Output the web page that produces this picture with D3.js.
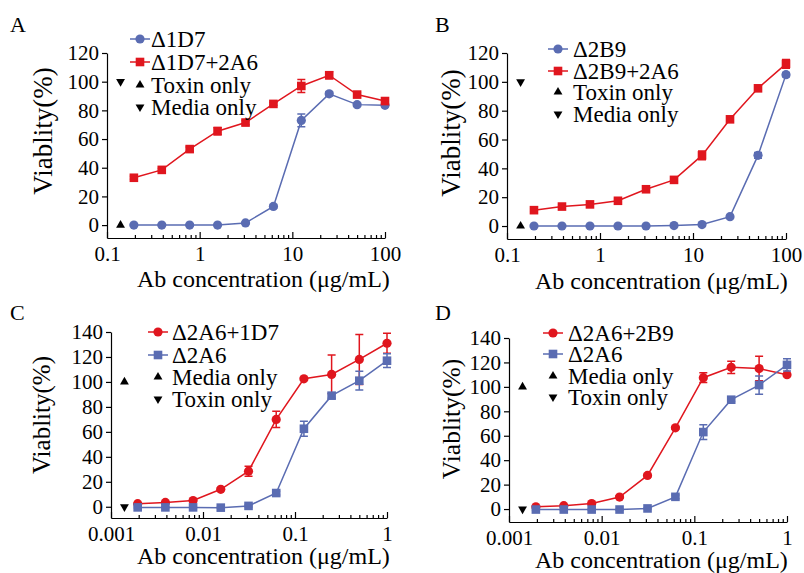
<!DOCTYPE html>
<html>
<head>
<meta charset="utf-8">
</head>
<body style="margin:0;background:#fff">
<script src="https://cdn.jsdelivr.net/npm/d3@7"></script>
<script>
// ---- data ----
var concAB = [0.195, 0.39, 0.78, 1.56, 3.125, 6.25, 12.5, 25, 50, 100];
var concCD = [0.00195, 0.0039, 0.0078, 0.0156, 0.03125, 0.0625, 0.125, 0.25, 0.5, 1];

var d1D7      = [0, 0, 0, 0, 1.5, 13, 73, 91.5, 84, 83.5];
var d1D7Err   = [0.3, 0.3, 0.3, 0.3, 0.5, 1, 4.5, 1.5, 1, 1];
var d1D7_2A6    = [33, 38.5, 53, 65.5, 71.5, 84.5, 97, 104.5, 91, 86.5];
var d1D7_2A6Err = [1, 1, 1.5, 2.5, 1.5, 1, 4.5, 2.5, 1.5, 1.5];

var d2B9      = [0, 0, 0, 0, 0, 0.3, 1, 6.5, 49, 105];
var d2B9Err   = [0.3, 0.3, 0.3, 0.3, 0.3, 0.3, 1, 1, 2, 1.5];
var d2B9_2A6    = [11, 13.5, 15, 17.5, 25.5, 32, 49, 74, 95.5, 112.5];
var d2B9_2A6Err = [1, 1, 1, 1, 1, 1.5, 3, 1.5, 1.5, 3];

var d2A6_1D7    = [2.5, 3.5, 5, 14, 28.5, 70, 102.5, 106, 118, 131];
var d2A6_1D7Err = [0.5, 0.5, 0.8, 1, 4, 6.5, 1, 15.5, 20, 8];
var d2A6C       = [-0.5, -0.5, -0.5, -0.7, 0.7, 11, 62.5, 89, 101, 117];
var d2A6CErr    = [0.5, 0.5, 0.5, 0.5, 0.8, 1.5, 6, 2, 7.5, 5.5];

var d2A6_2B9    = [1.8, 2.8, 4.5, 9.8, 27.5, 66.5, 107.5, 116, 115, 110];
var d2A6_2B9Err = [0.5, 0.5, 0.8, 1, 1, 1, 4, 5, 10, 1];
var d2A6D       = [-0.4, -0.4, -0.4, -0.4, 0.5, 10, 63, 89.5, 101.5, 118];
var d2A6DErr    = [0.5, 0.5, 0.5, 0.5, 0.5, 1.5, 6, 1.5, 7.5, 5];

var controlConcAB = 0.14, controlConcCD = 0.0014;

var xTicksAB = [0.1, 1, 10, 100];
var xTicksCD = [0.001, 0.01, 0.1, 1];
var yTicksAB = [0, 20, 40, 60, 80, 100, 120];
var yTicksCD = [0, 20, 40, 60, 80, 100, 120, 140];

var blue = "#5a6cb2", red = "#e0161e";
var serif = "'Liberation Serif', 'Times New Roman', serif";

var svg = d3.select("body").append("svg").attr("width", 804).attr("height", 573)
  .style("background", "#fff");

var panels = [
  { letter: "A", lx: 10, ly: 32, left: 107, right: 385, top: 53, bottom: 238,
    xDom: [0.1, 100], yDom: [-9, 120], xTicks: xTicksAB, yTicks: yTicksAB,
    ytX: 52, ytY: 131, ytSize: 27, xtX: 137, xtY: 287,
    legX: 140, legTx: 151, legY: [39, 62, 85, 107],
    series: [
      { name: "\u03941D7", x: concAB, y: d1D7, err: d1D7Err, color: blue, shape: "circle" },
      { name: "\u03941D7+2A6", x: concAB, y: d1D7_2A6, err: d1D7_2A6Err, color: red, shape: "square" }],
    controls: [
      { name: "Toxin only", up: true, x: controlConcAB, y: 0 },
      { name: "Media only", up: false, x: controlConcAB, y: 100 }] },
  { letter: "B", lx: 435, ly: 32, left: 507, right: 786, top: 53, bottom: 239,
    xDom: [0.1, 100], yDom: [-9, 120], xTicks: xTicksAB, yTicks: yTicksAB,
    ytX: 460, ytY: 133, ytSize: 27, xtX: 535, xtY: 289,
    legX: 558, legTx: 573, legY: [49, 71, 92, 114],
    series: [
      { name: "\u03942B9", x: concAB, y: d2B9, err: d2B9Err, color: blue, shape: "circle" },
      { name: "\u03942B9+2A6", x: concAB, y: d2B9_2A6, err: d2B9_2A6Err, color: red, shape: "square" }],
    controls: [
      { name: "Toxin only", up: true, x: controlConcAB, y: 0 },
      { name: "Media only", up: false, x: controlConcAB, y: 100 }] },
  { letter: "C", lx: 10, ly: 320, left: 111, right: 387, top: 332, bottom: 518,
    xDom: [0.001, 1], yDom: [-9, 140], xTicks: xTicksCD, yTicks: yTicksCD,
    ytX: 50, ytY: 415, ytSize: 25, xtX: 137, xtY: 564,
    legX: 158, legTx: 172, legY: [332, 355, 377, 399],
    series: [
      { name: "\u03942A6+1D7", x: concCD, y: d2A6_1D7, err: d2A6_1D7Err, color: red, shape: "circle" },
      { name: "\u03942A6", x: concCD, y: d2A6C, err: d2A6CErr, color: blue, shape: "square" }],
    controls: [
      { name: "Media only", up: true, x: controlConcCD, y: 100 },
      { name: "Toxin only", up: false, x: controlConcCD, y: 0 }] },
  { letter: "D", lx: 435, ly: 320, left: 509, right: 787, top: 338, bottom: 522,
    xDom: [0.001, 1], yDom: [-10.6, 140], xTicks: xTicksCD, yTicks: yTicksCD,
    ytX: 460, ytY: 419, ytSize: 25.5, xtX: 535, xtY: 568,
    legX: 553, legTx: 568, legY: [333, 354, 376, 397],
    series: [
      { name: "\u03942A6+2B9", x: concCD, y: d2A6_2B9, err: d2A6_2B9Err, color: red, shape: "circle" },
      { name: "\u03942A6", x: concCD, y: d2A6D, err: d2A6DErr, color: blue, shape: "square" }],
    controls: [
      { name: "Media only", up: true, x: controlConcCD, y: 100 },
      { name: "Toxin only", up: false, x: controlConcCD, y: 0 }] }
];

function drawMarker(g, shape, cx, cy, color) {
  if (shape == "circle") {
    g.append("circle").attr("cx", cx).attr("cy", cy).attr("r", 4.6).attr("fill", color);
  } else {
    g.append("rect").attr("x", cx - 4.3).attr("y", cy - 4.3).attr("width", 8.6).attr("height", 8.6).attr("fill", color);
  }
}

function drawTriangle(g, up, cx, cy) {
  g.append("path")
    .attr("d", d3.symbol().type(d3.symbolTriangle).size(34)())
    .attr("transform", "translate(" + cx + "," + cy + ") rotate(" + (up ? 0 : 180) + ")")
    .attr("fill", "#000");
}

function label(g, x, y, size, str) {
  return g.append("text").attr("x", x).attr("y", y)
    .style("font-family", serif).style("font-size", size + "px").style("fill", "#000").text(str);
}

function styleAxis(sel) {
  sel.selectAll("path, line").attr("stroke", "#000").attr("stroke-width", 1.2);
  sel.selectAll("text").style("font-family", serif).style("font-size", "21px").style("fill", "#000");
}

panels.forEach(function(p) {
  var x = d3.scaleLog().domain(p.xDom).range([p.left, p.right]);
  var y = d3.scaleLinear().domain(p.yDom).range([p.bottom, p.top]);
  var g = svg.append("g");

  label(g, p.lx, p.ly, 22, p.letter);

  // minor x ticks (inside)
  var minor = x.ticks().filter(function(v) { return p.xTicks.indexOf(v) < 0; });
  var mg = g.append("g")
    .attr("transform", "translate(0," + p.bottom + ")")
    .call(d3.axisBottom(x).tickValues(minor).tickSize(-3).tickFormat(""));
  mg.select(".domain").remove();
  styleAxis(mg);
  // major x ticks
  styleAxis(g.append("g")
    .attr("transform", "translate(0," + p.bottom + ")")
    .call(d3.axisBottom(x).tickValues(p.xTicks).tickSizeInner(-6).tickSizeOuter(0)
      .tickPadding(8).tickFormat(function(d) { return String(d); })));
  // y axis
  styleAxis(g.append("g")
    .attr("transform", "translate(" + p.left + ",0)")
    .call(d3.axisLeft(y).tickValues(p.yTicks).tickSizeInner(5).tickSizeOuter(0).tickPadding(3)));

  label(g, 0, 0, p.ytSize, "Viablity(%)")
    .attr("transform", "translate(" + p.ytX + "," + p.ytY + ") rotate(-90)")
    .attr("text-anchor", "middle");
  label(g, p.xtX, p.xtY, 24, "Ab concentration (\u03bcg/mL)");

  var line = d3.line().x(function(d) { return x(d[0]); }).y(function(d) { return y(d[1]); });

  p.series.forEach(function(s) {
    var pts = s.x.map(function(v, i) { return [v, s.y[i], s.err[i]]; });
    g.append("path").datum(pts).attr("d", line)
      .attr("fill", "none").attr("stroke", s.color).attr("stroke-width", 1.5);
    pts.forEach(function(d) {
      var cx = x(d[0]), y1 = y(d[1] + d[2]), y0 = y(d[1] - d[2]);
      g.append("path")
        .attr("d", "M" + cx + "," + y0 + "V" + y1 + "M" + (cx - 4) + "," + y1 + "H" + (cx + 4) + "M" + (cx - 4) + "," + y0 + "H" + (cx + 4))
        .attr("stroke", s.color).attr("stroke-width", 1.5).attr("fill", "none");
      drawMarker(g, s.shape, cx, y(d[1]), s.color);
    });
  });

  p.controls.forEach(function(c) {
    drawTriangle(g, c.up, x(c.x), y(c.y));
  });

  // legend
  p.series.forEach(function(s, i) {
    var ly = p.legY[i];
    g.append("line").attr("x1", p.legX - 10).attr("x2", p.legX + 10).attr("y1", ly).attr("y2", ly)
      .attr("stroke", s.color).attr("stroke-width", 1.5);
    drawMarker(g, s.shape, p.legX, ly, s.color);
    label(g, p.legTx, ly + 8, 23, s.name);
  });
  p.controls.forEach(function(c, i) {
    var ly = p.legY[i + 2];
    drawTriangle(g, c.up, p.legX, ly);
    label(g, p.legTx, ly + 8, 23, c.name);
  });
});
</script>
</body>
</html>
